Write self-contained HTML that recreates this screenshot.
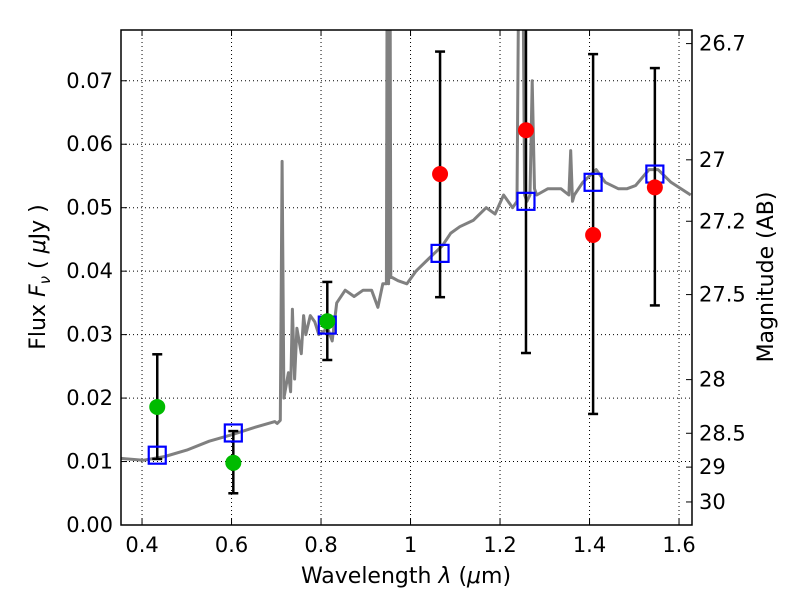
<!DOCTYPE html>
<html><head><meta charset="utf-8"><style>
body{margin:0;background:#fff;width:800px;height:600px;overflow:hidden}
svg text{font-family:"DejaVu Sans","Liberation Sans",sans-serif;fill:#000}
</style></head><body>
<svg id="chart" width="800" height="600">
<g id="grid"></g>
<g id="plot"></g>
<g id="axes"></g>
</svg>
<script>
const specX=[0.353,0.402,0.451,0.500,0.550,0.599,0.648,0.697,0.702,0.709,0.713,0.717,0.727,0.732,0.736,0.741,0.746,0.756,0.761,0.766,0.776,0.786,0.795,0.815,0.825,0.835,0.854,0.874,0.894,0.913,0.927,0.938,0.946,0.948,0.951,0.954,0.956,0.959,0.972,0.992,1.012,1.041,1.071,1.090,1.110,1.140,1.169,1.189,1.208,1.228,1.238,1.243,1.250,1.255,1.260,1.267,1.272,1.277,1.282,1.307,1.336,1.354,1.358,1.362,1.366,1.385,1.415,1.435,1.464,1.484,1.503,1.533,1.553,1.582,1.626];
const specY=[0.0105,0.0102,0.0108,0.0118,0.0132,0.0142,0.0153,0.0163,0.016,0.0165,0.0573,0.02,0.024,0.021,0.034,0.023,0.031,0.027,0.033,0.03,0.033,0.032,0.030,0.031,0.029,0.035,0.037,0.036,0.037,0.037,0.0343,0.038,0.038,0.1,0.038,0.1,0.039,0.039,0.0385,0.038,0.040,0.042,0.044,0.046,0.047,0.048,0.05,0.049,0.052,0.050,0.051,0.1,0.1,0.052,0.051,0.052,0.070,0.053,0.052,0.053,0.053,0.052,0.059,0.051,0.052,0.054,0.056,0.054,0.053,0.053,0.0535,0.056,0.056,0.054,0.052];
const obsX=[0.434,0.604,0.814,1.066,1.258,1.408,1.546];
const obsY=[0.0186,0.0098,0.0321,0.0553,0.0622,0.0457,0.0532];
const errLo=[0.0104,0.0050,0.0260,0.0359,0.0271,0.0175,0.0346];
const errHi=[0.0269,0.0148,0.0383,0.0746,0.09,0.0742,0.0720];
const obsColor=['#00bb00','#00bb00','#00bb00','#ff0000','#ff0000','#ff0000','#ff0000'];
const modelY=[0.0110,0.0145,0.0315,0.0428,0.0510,0.0540,0.0553];
const xTicks=[0.4,0.6,0.8,1.0,1.2,1.4,1.6];
const xTickLabels=['0.4','0.6','0.8','1','1.2','1.4','1.6'];
const yTicks=[0,0.01,0.02,0.03,0.04,0.05,0.06,0.07];
const yTickLabels=['0.00','0.01','0.02','0.03','0.04','0.05','0.06','0.07'];
const magTicks=[26.7,27,27.2,27.5,28,28.5,29,30];
const magTickLabels=['26.7','27','27.2','27.5','28','28.5','29','30'];

const L=121,R=692,T=30,B=525,X0=0.353,X1=1.629,Y0=0,Y1=0.078;
const sx=v=>L+(v-X0)/(X1-X0)*(R-L);
const sy=v=>B-(v-Y0)/(Y1-Y0)*(B-T);
const NS='http://www.w3.org/2000/svg';
function mk(tag,attrs,parent){const e=document.createElementNS(NS,tag);for(const k in attrs)e.setAttribute(k,attrs[k]);parent.appendChild(e);return e;}
const grid=document.getElementById('grid'),plot=document.getElementById('plot'),axes=document.getElementById('axes');

const defs=mk('defs',{},document.getElementById('chart'));
const cp=mk('clipPath',{id:'clip'},defs);mk('rect',{x:L,y:T,width:R-L,height:B-T},cp);
plot.setAttribute('clip-path','url(#clip)');

xTicks.forEach((t,i)=>{const x=sx(t);
 const g=mk('line',{x1:x,x2:x,y1:T,y2:B,stroke:'#000','stroke-dasharray':'1,3','stroke-width':1},grid);
 
 mk('line',{x1:x,x2:x,y1:B,y2:B-6,stroke:'#000'},axes);mk('line',{x1:x,x2:x,y1:T,y2:T+6,stroke:'#000'},axes);
 const tx=mk('text',{x:x,y:B+27,'text-anchor':'middle','font-size':21},axes);tx.textContent=xTickLabels[i];
 });
yTicks.forEach((t,i)=>{const y=sy(t);
 if(t>0){const g=mk('line',{x1:L,x2:R,y1:y,y2:y,stroke:'#000','stroke-dasharray':'1,3','stroke-width':1},grid);
 }
 mk('line',{x1:L,x2:L+6,y1:y,y2:y,stroke:'#000'},axes);
 const tx=mk('text',{x:L-8,y:y+7,'text-anchor':'end','font-size':21},axes);tx.textContent=yTickLabels[i];
 });
magTicks.forEach((m,i)=>{const f=Math.pow(10,(23.9-m)/2.5);const y=sy(f);
 mk('line',{x1:R-6,x2:R,y1:y,y2:y,stroke:'#000'},axes);
 const tx=mk('text',{x:R+7,y:y+7,'font-size':21},axes);tx.textContent=magTickLabels[i];
 });

const pth=mk('path',{d:specX.map((v,i)=>(i?'L':'M')+sx(v).toFixed(1)+','+sy(specY[i]).toFixed(1)).join(''),fill:'none',stroke:'#808080','stroke-width':3,'stroke-linejoin':'round'},plot);


obsX.forEach((v,i)=>{const x=sx(v);
 const e=mk('line',{x1:x,x2:x,y1:sy(errHi[i]),y2:sy(errLo[i]),stroke:'#000','stroke-width':2.5},plot);
 
 [errHi[i],errLo[i]].forEach(c=>mk('line',{x1:x-5,x2:x+5,y1:sy(c),y2:sy(c),stroke:'#000','stroke-width':2.5},plot));
 const s=mk('rect',{x:x-8.5,y:sy(modelY[i])-8.5,width:17,height:17,fill:'none',stroke:'#0000ff','stroke-width':2.2},plot);
 
 const c=mk('circle',{cx:x,cy:sy(obsY[i]),r:8,fill:obsColor[i]},plot);
 });

const fr=mk('rect',{x:L,y:T,width:R-L,height:B-T,fill:'none',stroke:'#000','stroke-width':1.5},axes);

const xl=mk('text',{x:406,y:583,'text-anchor':'middle','font-size':22},axes);
xl.innerHTML='Wavelength  <tspan font-style="italic">λ</tspan> (<tspan font-style="italic">μ</tspan>m)';

const yl=mk('text',{x:0,y:0,'text-anchor':'middle','font-size':22,transform:'translate(45,277) rotate(-90)'},axes);
yl.innerHTML='Flux  <tspan font-style="italic">F</tspan><tspan font-style="italic" font-size="15" dy="5">ν</tspan><tspan dy="-5">  (  </tspan><tspan font-style="italic">μ</tspan>Jy )';

const rl=mk('text',{x:0,y:0,'text-anchor':'middle','font-size':22,transform:'translate(773,277) rotate(-90)'},axes);
rl.textContent='Magnitude (AB)';

</script>
</body></html>
